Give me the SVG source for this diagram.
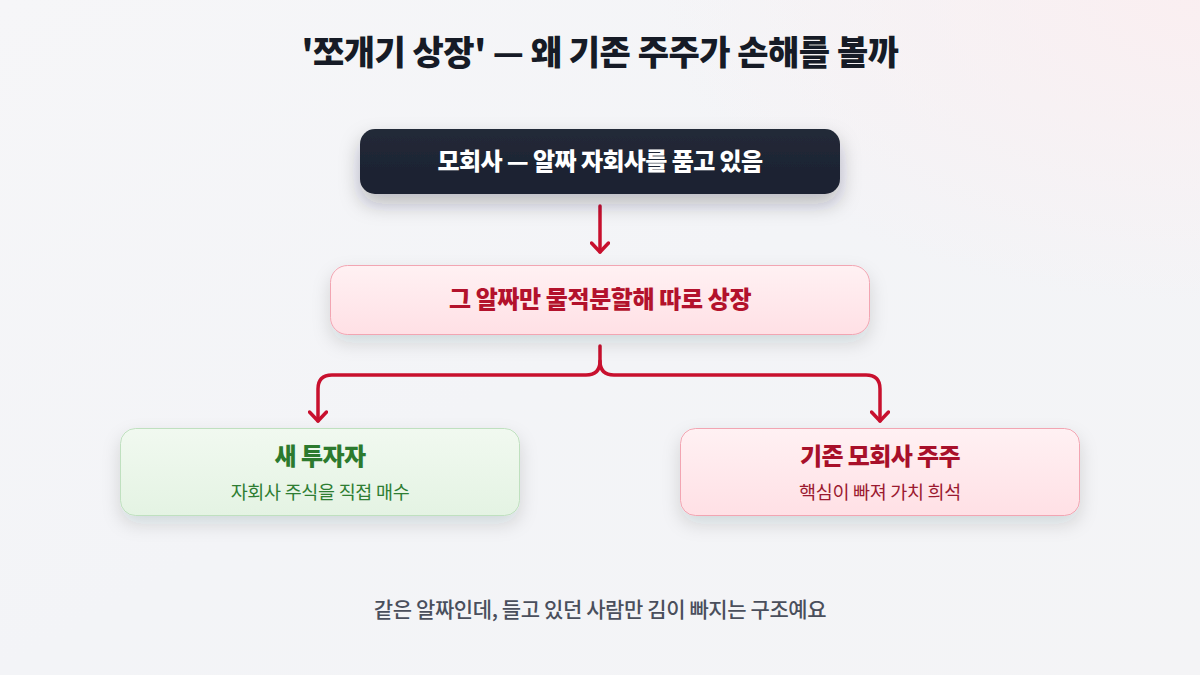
<svg xmlns="http://www.w3.org/2000/svg" width="1200" height="675" viewBox="0 0 1200 675">
  <defs>
    <linearGradient id="bg" x1="0" y1="0" x2="1" y2="1">
      <stop offset="0" stop-color="#f6f6f8"/>
      <stop offset="0.5" stop-color="#f3f4f7"/>
      <stop offset="1" stop-color="#f4f4f6"/>
    </linearGradient>
    <radialGradient id="glow" cx="1" cy="0" r="0.45">
      <stop offset="0" stop-color="#fbeef0" stop-opacity="0.9"/>
      <stop offset="1" stop-color="#fbeef0" stop-opacity="0"/>
    </radialGradient>
    <linearGradient id="darkFill" x1="0" y1="0" x2="0" y2="1">
      <stop offset="0" stop-color="#232a38"/>
      <stop offset="1" stop-color="#1a2030"/>
    </linearGradient>
    <linearGradient id="pinkFill" x1="0" y1="0" x2="0" y2="1">
      <stop offset="0" stop-color="#fff1f3"/>
      <stop offset="1" stop-color="#ffe0e5"/>
    </linearGradient>
    <linearGradient id="greenFill" x1="0" y1="0" x2="0" y2="1">
      <stop offset="0" stop-color="#f1f9f0"/>
      <stop offset="1" stop-color="#e4f3e3"/>
    </linearGradient>
    <filter id="shadow" x="-20%" y="-40%" width="140%" height="200%">
      <feDropShadow dx="0" dy="8" stdDeviation="9" flood-color="#1a2030" flood-opacity="0.14"/>
    </filter>
    <filter id="shadowDark" x="-20%" y="-40%" width="140%" height="200%">
      <feDropShadow dx="0" dy="10" stdDeviation="10" flood-color="#1a2030" flood-opacity="0.28"/>
    </filter>
    <marker id="chev" viewBox="0 0 20 20" refX="16" refY="10" markerWidth="20" markerHeight="20" markerUnits="userSpaceOnUse" orient="auto">
      <polyline points="7,1.5 16,10 7,18.5" fill="none" stroke="#c8102e" stroke-width="3.5" stroke-linecap="round" stroke-linejoin="round"/>
    </marker>
    <style>
      text { font-family: "Noto Sans CJK KR", "Noto Sans", sans-serif; text-anchor: middle; }
      .title { font-size: 34px; font-weight: 800; fill: #161b26; letter-spacing: -0.5px; }
      .boxtitle { font-size: 24px; font-weight: 800; letter-spacing: -0.6px; }
      .sub { font-size: 18.5px; font-weight: 400; letter-spacing: -0.3px; }
      .foot { font-size: 21px; font-weight: 500; fill: #4a4f5c; letter-spacing: -0.4px; }
      .conn { fill: none; stroke: #c8102e; stroke-width: 3.5; stroke-linecap: round; stroke-linejoin: round; }
    </style>
  </defs>

  <rect width="1200" height="675" fill="url(#bg)"/>
  <rect width="1200" height="675" fill="url(#glow)"/>

  <text class="title" x="600" y="65">'쪼개기 상장' — 왜 기존 주주가 손해를 볼까</text>

  <g id="connectors">
    <path class="conn" d="M600,206 V252" marker-end="url(#chev)"/>
    <path class="conn" d="M600,346 V361 Q600,375 586,375 H332 Q318,375 318,389 V421" marker-end="url(#chev)"/>
    <path class="conn" d="M600,361 Q600,375 614,375 H866 Q880,375 880,389 V421" marker-end="url(#chev)"/>
  </g>

  <g id="node-parent">
    <rect x="360" y="129" width="480" height="65" rx="15" fill="url(#darkFill)" filter="url(#shadowDark)"/>
    <text class="boxtitle" x="600" y="170" fill="#ffffff">모회사 — 알짜 자회사를 품고 있음</text>
  </g>

  <g id="node-split">
    <rect x="330.5" y="265.5" width="539" height="69" rx="17" fill="url(#pinkFill)" stroke="#f2a5b2" stroke-width="1" filter="url(#shadow)"/>
    <text class="boxtitle" x="600" y="308" fill="#b3122c" style="letter-spacing:-0.4px">그 알짜만 물적분할해 따로 상장</text>
  </g>

  <g id="node-new-investor">
    <rect x="120.5" y="428.5" width="399" height="87" rx="15" fill="url(#greenFill)" stroke="#bfe0bf" stroke-width="1" filter="url(#shadow)"/>
    <text class="boxtitle" x="320" y="465" fill="#2c7a2e">새 투자자</text>
    <text class="sub" x="320" y="499" fill="#2e7d32">자회사 주식을 직접 매수</text>
  </g>

  <g id="node-old-shareholder">
    <rect x="680.5" y="428.5" width="399" height="87" rx="15" fill="url(#pinkFill)" stroke="#f2a5b2" stroke-width="1" filter="url(#shadow)"/>
    <text class="boxtitle" x="880" y="465" fill="#a8102a">기존 모회사 주주</text>
    <text class="sub" x="880" y="499" fill="#9b1a30">핵심이 빠져 가치 희석</text>
  </g>

  <text class="foot" x="600" y="617">같은 알짜인데, 들고 있던 사람만 김이 빠지는 구조예요</text>
</svg>
